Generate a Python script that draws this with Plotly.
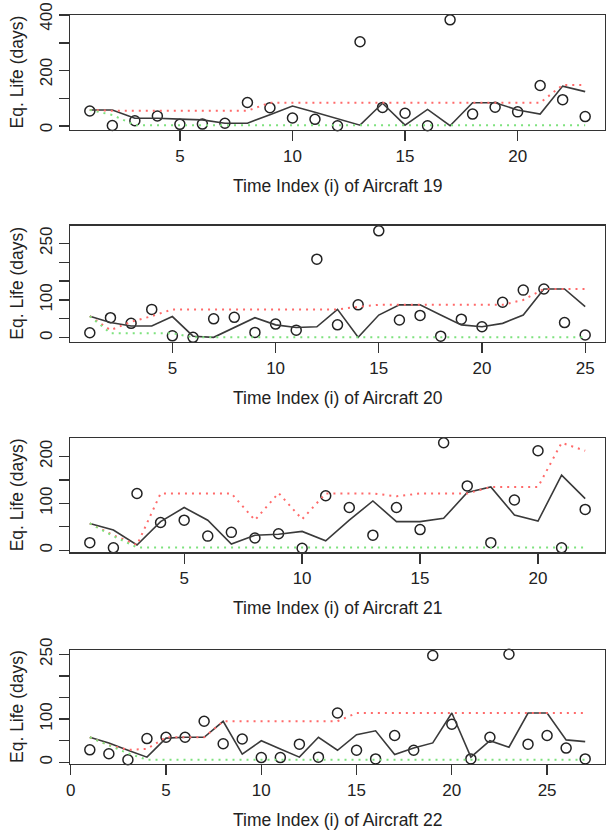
import plotly.graph_objects as go

# ---------------- data ----------------
aircraft = [19, 20, 21, 22]

obs_19 = [54, 2, 19, 36, 6, 7, 10, 85, 66, 29, 24, 1, 304, 67, 46, 1, 383, 43, 68, 51, 146, 95, 34]
fit_19 = [58, 58, 28, 28, 25, 22, 10, 10, 41, 72, 50, 27, 3, 82, 3, 60, 1, 84, 84, 58, 43, 144, 124]
red_19 = [58, 55, 55, 55, 55, 55, 55, 55, 84, 84, 84, 84, 84, 84, 84, 84, 84, 84, 84, 84, 84, 148, 148]
grn_19 = [58, 40] + [3] * 21

obs_20 = [13, 53, 38, 75, 5, 1, 50, 54, 14, 36, 20, 208, 34, 87, 283, 47, 59, 4, 49, 29, 94, 126, 129, 40, 7]
fit_20 = [57, 40, 31, 31, 56, 4, 1, 27, 53, 34, 27, 29, 75, 1, 60, 87, 87, 60, 34, 29, 38, 60, 129, 129, 82]
red_20 = [57, 20, 42, 57, 75, 75, 75, 75, 75, 75, 75, 75, 75, 82, 87, 87, 87, 87, 87, 87, 87, 100, 129, 129, 129]
grn_20 = [57, 12, 12, 12, 12] + [1] * 20

obs_21 = [16, 5, 121, 59, 64, 30, 38, 26, 35, 4, 116, 91, 32, 91, 44, 229, 137, 16, 107, 212, 5, 87]
fit_21 = [57, 43, 11, 61, 91, 64, 13, 32, 34, 40, 20, 64, 105, 61, 61, 68, 123, 135, 75, 62, 160, 110]
red_21 = [57, 32, 11, 121, 121, 121, 121, 64, 122, 66, 121, 121, 121, 115, 121, 121, 121, 135, 135, 135, 229, 212]
grn_21 = [57, 30] + [6] * 20

obs_22 = [29, 20, 6, 55, 58, 58, 95, 43, 54, 11, 11, 42, 12, 114, 28, 8, 62, 28, 247, 88, 8, 58, 250, 42, 62, 33, 8]
fit_22 = [58, 45, 28, 12, 56, 58, 58, 95, 19, 50, 31, 12, 58, 28, 64, 73, 18, 33, 45, 114, 12, 50, 35, 114, 114, 52, 48]
red_22 = [58, 40, 29, 31, 58, 58, 58, 95, 95, 95, 95, 95, 95, 95] + [114] * 13
grn_22 = [58, 40, 21] + [6] * 24

obs = [obs_19, obs_20, obs_21, obs_22]
fit = [fit_19, fit_20, fit_21, fit_22]
red = [red_19, red_20, red_21, red_22]
grn = [grn_19, grn_20, grn_21, grn_22]

y_ticks = [[0, 100, 200, 300, 400], [0, 50, 100, 150, 200, 250],
           [0, 50, 100, 150, 200], [0, 50, 100, 150, 200, 250]]
y_labels = [["0", "", "200", "", "400"], ["0", "", "100", "", "", "250"],
            ["0", "", "100", "", "200"], ["0", "", "100", "", "", "250"]]
x_ticks = [[5, 10, 15, 20], [5, 10, 15, 20, 25], [5, 10, 15, 20], [0, 5, 10, 15, 20, 25]]
y_ranges = [[-14.4, 400.5], [-10.6, 296.6], [-4.5, 238.6], [-3.8, 259.8]]
y_label_shift = [4, 0, 0, 0]

# ---------------- layout geometry (pixels) ----------------
W, H = 606, 835
left_px, right_px = 70, 605
tops = [15, 225.7, 438.3, 650]
bottoms = [130, 341.7, 552.3, 764]

FONT = "Liberation Sans, Arial, Helvetica, sans-serif"
INK = "#222222"

fig = go.Figure()
layout = dict(width=W, height=H,
              margin=dict(l=0, r=0, t=0, b=0, autoexpand=False),
              paper_bgcolor="white", plot_bgcolor="white", showlegend=False,
              annotations=[])

for k in range(4):
    n = len(obs[k])
    xs = list(range(1, n + 1))
    span = n - 1
    xr = [1 - 0.04 * span, n + 0.04 * span]
    xa = "x" if k == 0 else f"x{k+1}"
    ya = "y" if k == 0 else f"y{k+1}"

    fig.add_trace(go.Scatter(x=xs, y=obs[k], mode="markers", xaxis=xa, yaxis=ya,
                             cliponaxis=False,
                             marker=dict(symbol="circle-open", size=10, color=INK,
                                         line=dict(width=1.5, color=INK))))
    fig.add_trace(go.Scatter(x=xs, y=fit[k], mode="lines", xaxis=xa, yaxis=ya,
                             line=dict(color="#3a3a3a", width=1.6)))
    fig.add_trace(go.Scatter(x=xs, y=red[k], mode="lines", xaxis=xa, yaxis=ya,
                             line=dict(color="#ff6a6a", width=2, dash="2px,5px")))
    fig.add_trace(go.Scatter(x=xs, y=grn[k], mode="lines", xaxis=xa, yaxis=ya,
                             line=dict(color="#7ee27e", width=2, dash="2px,5px")))

    ydom = [1 - bottoms[k] / H, 1 - tops[k] / H]
    xdom = [left_px / W, right_px / W]
    common = dict(showline=True, mirror=True, linecolor="#333333", linewidth=1.4,
                  ticks="outside", ticklen=10, tickwidth=1.3, tickcolor="#333333",
                  showgrid=False, zeroline=False, ticklabeloverflow="allow",
                  tickfont=dict(family=FONT, size=17, color=INK))
    layout["xaxis" if k == 0 else f"xaxis{k+1}"] = dict(
        domain=xdom, range=xr, anchor=ya, tickmode="array", tickvals=x_ticks[k],
        ticktext=[str(v) for v in x_ticks[k]], **common)
    layout["yaxis" if k == 0 else f"yaxis{k+1}"] = dict(
        domain=ydom, range=y_ranges[k], anchor=xa, tickmode="array",
        tickvals=y_ticks[k], ticktext=y_labels[k], tickangle=-90,
        ticklabelshift=y_label_shift[k], **common)

    layout["annotations"].append(dict(
        text=f"Time Index (i) of Aircraft {aircraft[k]}", xref="paper", yref="paper",
        x=(left_px + right_px) / 2 / W, y=1 - (bottoms[k] + 56) / H,
        xanchor="center", yanchor="middle", showarrow=False,
        font=dict(family=FONT, size=17.5, color=INK)))
    layout["annotations"].append(dict(
        text="Eq. Life (days)", xref="paper", yref="paper", textangle=-90,
        x=17 / W, y=1 - (tops[k] + bottoms[k]) / 2 / H,
        xanchor="center", yanchor="middle", showarrow=False,
        font=dict(family=FONT, size=17.5, color=INK)))

fig.update_layout(**layout)
fig.write_html("out.html",
               config={"displayModeBar": False, "staticPlot": True},
               post_script="document.body.style.margin='0';document.body.style.overflow='hidden';")
